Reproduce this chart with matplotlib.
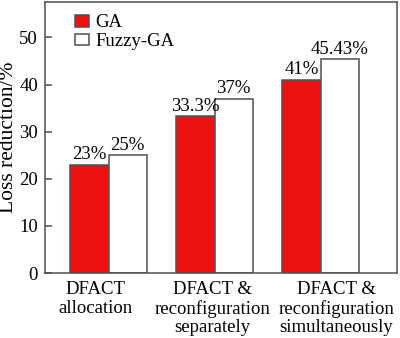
import numpy as np
import matplotlib.pyplot as plt

plt.rcParams['font.family'] = 'serif'
plt.rcParams['font.serif'] = ['Liberation Serif', 'TeX Gyre Termes', 'DejaVu Serif']
plt.rcParams['font.size'] = 13.5

groups = ['DFACT\nallocation', 'DFACT &\nreconfiguration\nseparately', 'DFACT &\nreconfiguration\nsimultaneously']
ga = [23, 33.3, 41]
fuzzy = [25, 37, 45.43]
ga_lbl = ['23%', '33.3%', '41%']
fuzzy_lbl = ['25%', '37%', '45.43%']

fig = plt.figure(figsize=(4, 3.38), dpi=100)
ax = fig.add_axes([0.1125, 0.192, 0.88, 0.802])

x = np.arange(len(groups))
w = 0.36
ec = '#505050'
ax.bar(x - w/2, ga, w, color='#EE1111', edgecolor=ec, linewidth=1.1, label='GA')
ax.bar(x + w/2, fuzzy, w, color='white', edgecolor=ec, linewidth=1.1, label='Fuzzy-GA')

for xi, v, t in zip(x - w/2, ga, ga_lbl):
    ax.text(xi, v + 0.3, t, ha='center', va='bottom')
for xi, v, t in zip(x + w/2, fuzzy, fuzzy_lbl):
    ax.text(xi, v + 0.3, t, ha='center', va='bottom')

ax.set_xlim(-0.6, 2.72)
ax.set_ylim(0, 57.5)
ax.set_yticks([0, 10, 20, 30, 40, 50])
# category labels sit a little off the group centres in the original
ax.set_xticks(x + np.array([-0.12, -0.02, 0.15]))
ax.set_xticklabels(groups, linespacing=1.1)
ax.tick_params(axis='x', length=0, pad=6)
ax.tick_params(axis='y', direction='in', length=5, width=1.1, color=ec, pad=5)
ax.set_ylabel('Loss reduction/%', fontsize=15.5, labelpad=1)
for s in ax.spines.values():
    s.set_color(ec)
    s.set_linewidth(1.1)

ax.legend(loc='upper left', bbox_to_anchor=(0.085, 0.955), frameon=False,
          handlelength=0.75, handleheight=0.6, handletextpad=0.35,
          labelspacing=0.1, borderaxespad=0, borderpad=0)

fig.savefig('out.png', dpi=100)
